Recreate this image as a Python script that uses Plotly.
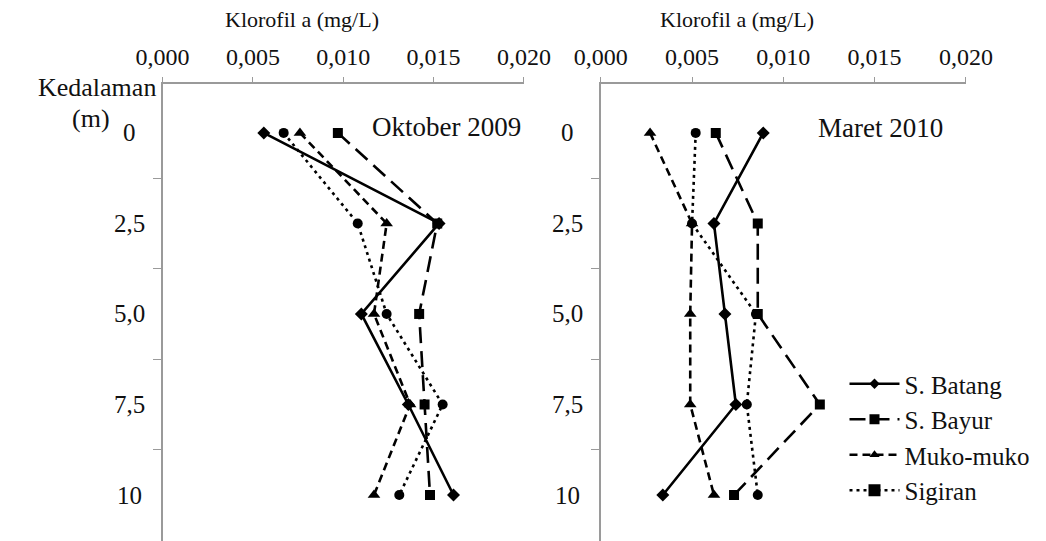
import plotly.graph_objects as go

# ---------------- data ----------------
depths = [0, 2.5, 5, 7.5, 10]
depth_labels = ["0", "2,5", "5,0", "7,5", "10"]
x_ticks = [0, 0.005, 0.010, 0.015, 0.020]
x_tick_labels = ["0,000", "0,005", "0,010", "0,015", "0,020"]
series_names = ["S. Batang", "S. Bayur", "Muko-muko", "Sigiran"]

# Oktober 2009
okt_batang = [0.0056, 0.0153, 0.0110, 0.0136, 0.0161]
okt_bayur = [0.0097, 0.0152, 0.0142, 0.0145, 0.0148]
okt_muko = [0.0076, 0.0124, 0.0117, 0.0137, 0.0117]
okt_sigiran = [0.0067, 0.0108, 0.0124, 0.0155, 0.0131]

# Maret 2010
mar_batang = [0.0089, 0.0062, 0.0068, 0.0074, 0.0034]
mar_bayur = [0.0063, 0.0086, 0.0086, 0.0120, 0.0073]
mar_muko = [0.0027, 0.0050, 0.0049, 0.0049, 0.0062]
mar_sigiran = [0.0052, 0.0050, 0.0085, 0.0080, 0.0086]

# ---------------- styling ----------------
W, H = 1046, 541
TOP = 84
FONT = "Liberation Serif"
AXC = "#9a9a9a"

styles = {
    "S. Batang": dict(dash="solid", symbol="diamond", size=10),
    "S. Bayur": dict(dash="16px,8px", symbol="square", size=10),
    "Muko-muko": dict(dash="8px,5px", symbol="triangle-up", size=11),
    "Sigiran": dict(dash="3px,4px", symbol="circle", size=10),
}


def px(x):
    return x / W


def py(y):
    return (H - y) / (H - TOP)


fig = go.Figure()

panels = [
    ("x", "y", [okt_batang, okt_bayur, okt_muko, okt_sigiran]),
    ("x2", "y2", [mar_batang, mar_bayur, mar_muko, mar_sigiran]),
]
for xa, ya, data in panels:
    for name, vals in zip(series_names, data):
        st = styles[name]
        fig.add_trace(go.Scatter(
            x=vals, y=depths, mode="lines+markers", name=name,
            xaxis=xa, yaxis=ya, showlegend=False,
            line=dict(color="black", width=2.6, dash=st["dash"]),
            marker=dict(color="black", symbol=st["symbol"], size=st["size"]),
        ))

# legend entries (reference legend shows a square for Sigiran)
legend_symbols = {"S. Batang": ("diamond", 8), "S. Bayur": ("square", 10),
                  "Muko-muko": ("triangle-up", 9), "Sigiran": ("square", 12)}
for name in series_names:
    st = styles[name]
    sym, sz = legend_symbols[name]
    fig.add_trace(go.Scatter(
        x=[None], y=[None], mode="lines+markers", name=name,
        xaxis="x2", yaxis="y2",
        line=dict(color="black", width=2.6, dash=st["dash"]),
        marker=dict(color="black", symbol=sym, size=sz),
    ))

yr = [11.27, -1.35]
xcommon = dict(
    range=[0, 0.02], side="top", tickmode="array", tickvals=x_ticks,
    ticktext=x_tick_labels, ticks="outside", ticklen=5, tickcolor=AXC,
    showline=True, linecolor=AXC, linewidth=1.5, showgrid=False,
    zeroline=False, tickfont=dict(family=FONT, size=24, color="#111"),
    ticklabelstandoff=3,
)
ycommon = dict(
    range=yr, tickmode="array", tickvals=depths, ticktext=[""] * 5,
    ticks="", showline=True, linecolor=AXC, linewidth=1.5,
    showgrid=False, zeroline=False,
    minor=dict(tickmode="array", tickvals=[1.25, 3.75, 6.25, 8.75],
               ticks="outside", ticklen=8, tickcolor=AXC, showgrid=False),
)

fig.update_layout(
    width=W, height=H,
    margin=dict(l=0, r=0, t=TOP, b=0),
    paper_bgcolor="white", plot_bgcolor="white",
    font=dict(family=FONT, color="#111"),
    xaxis=dict(domain=[px(143), px(524)], anchor="y", **xcommon),
    xaxis2=dict(domain=[px(605), px(990)], anchor="y2", **xcommon),
    yaxis=dict(domain=[0, 1], anchor="x", **ycommon),
    yaxis2=dict(domain=[0, 1], anchor="x2", **ycommon),
    legend=dict(x=px(862), y=py(361), xanchor="left", yanchor="top",
                bgcolor="rgba(0,0,0,0)", font=dict(family=FONT, size=25, color="#111"),
                tracegroupgap=0, itemwidth=50),
    showlegend=True,
)

annotations = []
# depth labels (centered, as in the reference)
for xc, yref in [(108, "y"), (570, "y2")]:
    for d, lab in zip(depths, depth_labels):
        annotations.append(dict(x=px(xc), y=d, xref="paper", yref=yref, text=lab,
                                showarrow=False, xanchor="center", yanchor="middle",
                                font=dict(family=FONT, size=25, color="#111")))
# axis titles
for xc in [290, 749]:
    annotations.append(dict(x=px(xc), y=py(20), xref="paper", yref="paper",
                            text="Klorofil a (mg/L)", showarrow=False,
                            xanchor="center", yanchor="middle",
                            font=dict(family=FONT, size=22, color="#111")))
annotations.append(dict(x=px(74), y=py(88), xref="paper", yref="paper", text="Kedalaman",
                        showarrow=False, xanchor="center", yanchor="middle",
                        font=dict(family=FONT, size=26, color="#111")))
annotations.append(dict(x=px(68), y=py(119), xref="paper", yref="paper", text="(m)",
                        showarrow=False, xanchor="center", yanchor="middle",
                        font=dict(family=FONT, size=26, color="#111")))
annotations.append(dict(x=px(442), y=py(127), xref="paper", yref="paper", text="Oktober 2009",
                        showarrow=False, xanchor="center", yanchor="middle",
                        font=dict(family=FONT, size=27, color="#111")))
annotations.append(dict(x=px(900), y=py(128), xref="paper", yref="paper", text="Maret 2010",
                        showarrow=False, xanchor="center", yanchor="middle",
                        font=dict(family=FONT, size=27, color="#111")))
fig.update_layout(annotations=annotations)

fig.write_html("out.html")
